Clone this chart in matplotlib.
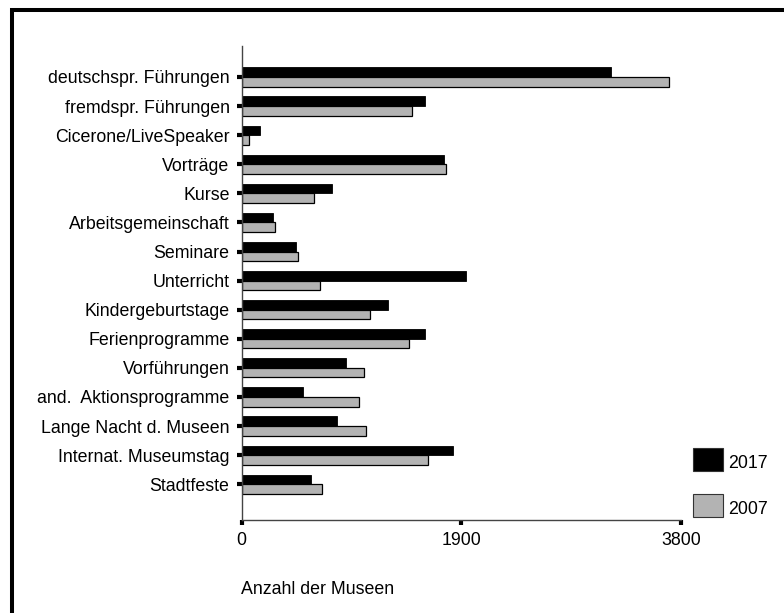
import numpy as np
import matplotlib
matplotlib.use('Agg')
import matplotlib.pyplot as plt
from matplotlib.patches import Rectangle
from matplotlib.lines import Line2D

plt.rcParams['font.family'] = ['Liberation Sans', 'DejaVu Sans']

# Data
categories = ['deutschspr. Führungen', 'fremdspr. Führungen', 'Cicerone/LiveSpeaker',
              'Vorträge', 'Kurse', 'Arbeitsgemeinschaft', 'Seminare', 'Unterricht',
              'Kindergeburtstage', 'Ferienprogramme', 'Vorführungen',
              'and.  Aktionsprogramme', 'Lange Nacht d. Museen', 'Internat. Museumstag',
              'Stadtfeste']
values_2017 = [3195, 1588, 156, 1752, 781, 269, 474, 1937, 1267, 1588, 905, 532, 827, 1825, 601]
values_2007 = [3693, 1475, 66, 1767, 625, 292, 489, 682, 1113, 1446, 1059, 1015, 1073, 1614, 697]
x_ticks = [0, 1900, 3800]

W, H = 784, 613
fs = 12.8
fig = plt.figure(figsize=(W / 100, H / 100), dpi=100)

def fx(px):
    return px / W

def fy(py):
    return 1 - py / H

ax = fig.add_axes([fx(241.5), fy(520), fx(681) - fx(241.5), fy(46) - fy(520)])

y = np.arange(len(categories))
bh = 0.33
ax.barh(y - bh / 2, values_2017, height=bh, color='black', edgecolor='black', linewidth=0.6)
ax.barh(y + bh / 2, values_2007, height=bh, color='#b3b3b3', edgecolor='black', linewidth=0.9)

ax.set_xlim(0, 3800)
ax.set_ylim(15.23, -1.065)
ax.set_yticks(y)
ax.set_yticklabels(categories, fontsize=fs)
ax.set_xticks(x_ticks)
ax.set_xticklabels([str(t) for t in x_ticks], fontsize=fs)
ax.tick_params(axis='both', direction='out', length=3.6, width=3, color='black', pad=5)

for s in ['top', 'right']:
    ax.spines[s].set_visible(False)
for s in ['left', 'bottom']:
    ax.spines[s].set_color('#444444')
    ax.spines[s].set_linewidth(1)

# legend drawn as boxes next to the axis
fig.patches.append(Rectangle((fx(693), fy(471)), fx(723) - fx(693), fy(448) - fy(471),
                             transform=fig.transFigure, facecolor='black', edgecolor='#333333', lw=0.8))
fig.patches.append(Rectangle((fx(693), fy(517)), fx(723) - fx(693), fy(494) - fy(517),
                             transform=fig.transFigure, facecolor='#b3b3b3', edgecolor='#333333', lw=0.8))
fig.text(fx(728), fy(463), '2017', fontsize=fs, va='center', ha='left')
fig.text(fx(728), fy(509), '2007', fontsize=fs, va='center', ha='left')

fig.text(fx(241), fy(590), 'Anzahl der Museen', fontsize=fs, va='center', ha='left')

# frame around the chart (left and top edge)
fig.add_artist(Line2D([fx(12), fx(12), fx(790)], [fy(620), fy(10), fy(10)],
                      transform=fig.transFigure, color='black', lw=2.9, solid_joinstyle='miter'))

fig.savefig('out.png', dpi=100)
